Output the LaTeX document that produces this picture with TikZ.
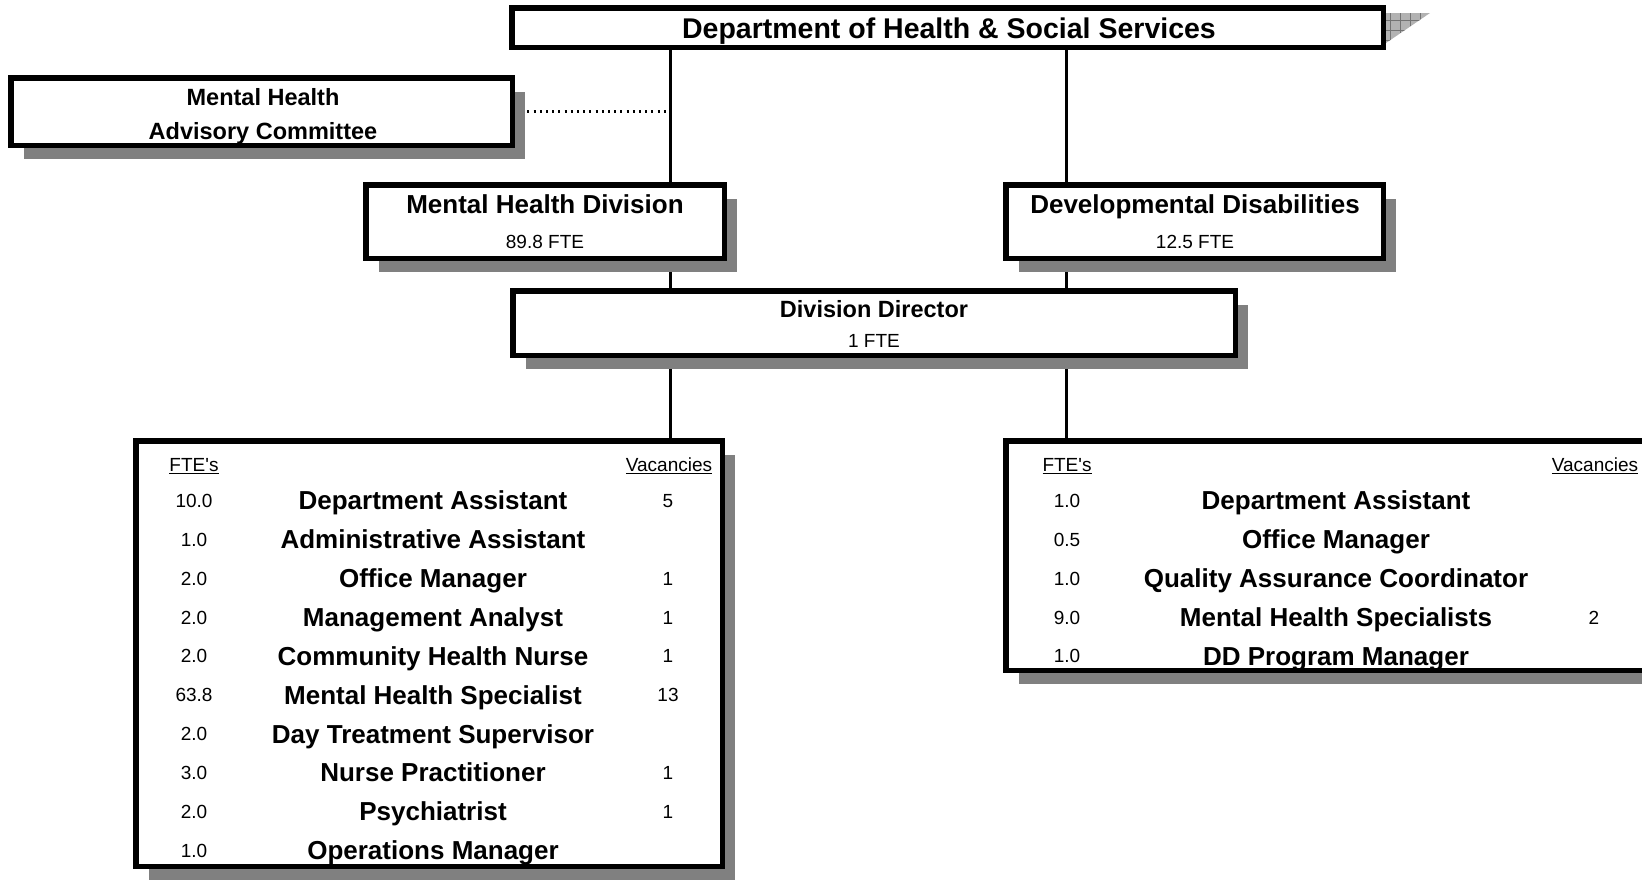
\documentclass[tikz,border=0pt]{standalone}
\usepackage{fontspec}
\setmainfont{Liberation Sans}
\usetikzlibrary{shadows,backgrounds}
\tikzset{
  plainbox/.style={draw, line width=5.5pt, fill=white, inner sep=0pt},
  orgbox/.style={plainbox,
    drop shadow={shadow xshift=13pt, shadow yshift=-14pt, fill=black!50, opacity=1}},
  headtext/.style={font=\fontsize{28.5}{32}\selectfont\bfseries, inner sep=0pt, text height=20.4pt, text depth=0pt},
  bigtext/.style={font=\fontsize{26}{30}\selectfont\bfseries, inner sep=0pt, text height=18.7pt, text depth=0pt},
  midtext/.style={font=\fontsize{23.5}{28}\selectfont\bfseries, inner sep=0pt, text height=16.9pt, text depth=0pt},
  smalltext/.style={font=\fontsize{19}{22}\selectfont, inner sep=0pt, text height=13.7pt, text depth=0pt},
  link/.style={line width=3pt},
  dotlink/.style={line width=2.2pt, dash pattern=on 2pt off 4.2pt},
}

\begin{document}
\begin{tikzpicture}[x=1pt, y=-1pt]
\useasboundingbox (0,0) rectangle (1642,879);
\clip (0,0) rectangle (1642,879);

% Hatched corner beside the top box
\fill[black!30] (1386,13) -- (1430,13) -- (1386,43) -- cycle;
\begin{scope}
  \clip (1386,13) -- (1430,13) -- (1386,43) -- cycle;
  \foreach \gx in {1390,1400,...,1430}
    \draw[black!55, line width=0.8pt] (\gx,10) -- (\gx,45);
  \foreach \gy in {20,30,40}
    \draw[black!55, line width=0.8pt] (1384,\gy) -- (1432,\gy);
\end{scope}

% Boxes
\node[plainbox, minimum width=871.5pt, minimum height=39.5pt] (dept) at (947.5,27.5) {};
\node[orgbox, minimum width=501.5pt, minimum height=67.5pt] (committee) at (261.5,111.5) {};
\node[orgbox, minimum width=358.5pt, minimum height=73.5pt] (mhd) at (545,221.5) {};
\node[orgbox, minimum width=377.5pt, minimum height=73.5pt] (dd) at (1194.5,221.5) {};
\node[orgbox, minimum width=722.5pt, minimum height=64.5pt] (director) at (874,323) {};
\node[orgbox, minimum width=586.5pt, minimum height=425.5pt] (leftbox) at (429,653.5) {};
\node[orgbox, minimum width=641.5pt, minimum height=229.5pt] (rightbox) at (1326.5,555.5) {};

% Spines
\coordinate (lspine) at (670,0);
\coordinate (rspine) at (1066,0);

\begin{scope}[on background layer]
  \draw[link] (dept.south -| lspine) -- (mhd.north -| lspine);
  \draw[link] (mhd.south -| lspine) -- (director.north -| lspine);
  \draw[link] (director.south -| lspine) -- (leftbox.north -| lspine);
  \draw[link] (dept.south -| rspine) -- (dd.north -| rspine);
  \draw[link] (dd.south -| rspine) -- (director.north -| rspine);
  \draw[link] (director.south -| rspine) -- (rightbox.north -| rspine);
  \draw[dotlink] (committee.east) -- (committee.east -| lspine);
\end{scope}

% Box titles
\node[headtext] (depttitle) at (949,28) {Department of Health \& Social Services};
\node[midtext] (comm1) at (263,97) {Mental Health};
\node[midtext] (comm2) at (263,131) {Advisory Committee};
\node[bigtext] (mhdtitle) at (545,204) {Mental Health Division};
\node[smalltext] (mhdfte) at (545,242) {89.8 FTE};
\node[bigtext] (ddtitle) at (1195,204) {Developmental Disabilities};
\node[smalltext] (ddfte) at (1195,242) {12.5 FTE};
\node[midtext] (dirtitle) at (874,309) {Division Director};
\node[smalltext] (dirfte) at (874,341) {1 FTE};

% Mental health staff
\node[smalltext] (lfte) at (194,465) {\underline{FTE\textquotesingle s}};
\node[smalltext] (lvac) at (669,465) {\underline{Vacancies}};
\foreach \fte/\job/\vac [count=\i from 0] in {
    10.0/Department Assistant/5,
    1.0/Administrative Assistant/,
    2.0/Office Manager/1,
    2.0/Management Analyst/1,
    2.0/Community Health Nurse/1,
    63.8/Mental Health Specialist/13,
    2.0/Day Treatment Supervisor/,
    3.0/Nurse Practitioner/1,
    2.0/Psychiatrist/1,
    1.0/Operations Manager/} {
  \node[smalltext] (lnum\i) at (194,500.6+38.85*\i) {\fte};
  \node[bigtext] (ljob\i) at (433,500.6+38.85*\i) {\job};
  \node[smalltext] (lopen\i) at (668,500.6+38.85*\i) {\vac};
}

% Developmental disabilities staff
\node[smalltext] (rfte) at (1067,465) {\underline{FTE\textquotesingle s}};
\node[smalltext] (rvac) at (1595,465) {\underline{Vacancies}};
\foreach \fte/\job/\vac [count=\i from 0] in {
    1.0/Department Assistant/,
    0.5/Office Manager/,
    1.0/Quality Assurance Coordinator/,
    9.0/Mental Health Specialists/2,
    1.0/DD Program Manager/} {
  \node[smalltext] (rnum\i) at (1067,500.6+38.85*\i) {\fte};
  \node[bigtext] (rjob\i) at (1336,500.6+38.85*\i) {\job};
  \node[smalltext] (ropen\i) at (1594,500.6+38.85*\i) {\vac};
}
\end{tikzpicture}
\end{document}
